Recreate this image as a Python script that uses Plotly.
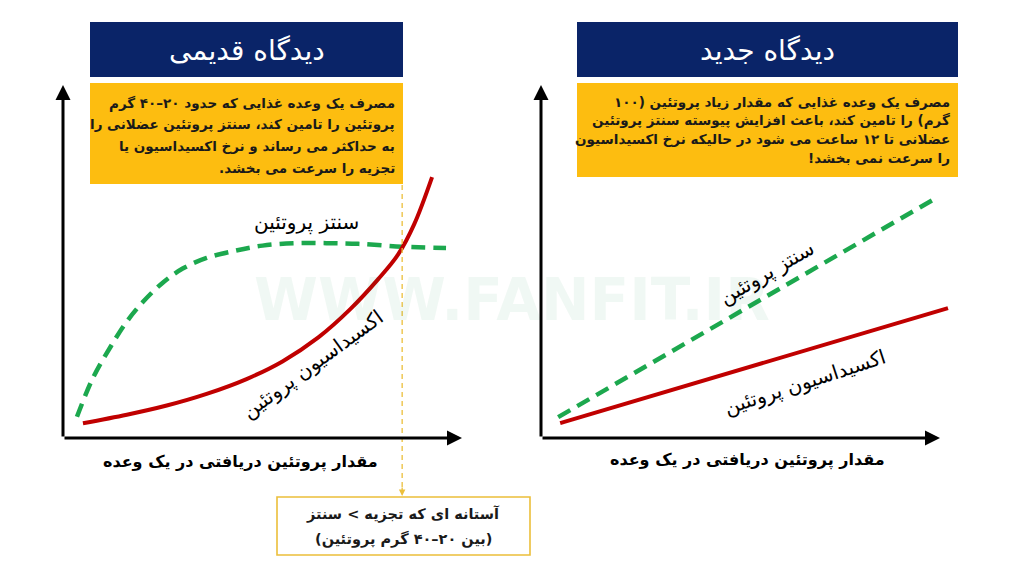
import plotly.graph_objects as go

W, H = 1030, 579
FONT = "DejaVu Sans"
NAVY = "#0a2468"
YELLOW = "#fdbd10"
GREEN = "#1ca84e"
RED = "#c00000"
GOLD = "#ecbf3a"

# ---------------- data ----------------
old_syn_x = [0.35, 0.75, 1.2, 1.6, 2.0, 2.5, 3.0, 3.6, 4.3, 5.0, 5.8, 6.6, 7.4, 8.5, 9.6]
old_syn_y = [0.6, 1.7, 2.6, 3.3, 3.85, 4.4, 4.8, 5.1, 5.3, 5.45, 5.52, 5.52, 5.5, 5.42, 5.38]
old_ox_x = [0.5, 1.6, 2.6, 3.6, 4.6, 5.5, 6.4, 7.2, 7.9, 8.4, 8.8, 9.25]
old_ox_y = [0.42, 0.66, 0.92, 1.25, 1.67, 2.17, 2.85, 3.65, 4.5, 5.2, 6.05, 7.39]
new_syn_x = [0.43, 9.95]
new_syn_y = [0.59, 6.83]
new_ox_x = [0.48, 10.2]
new_ox_y = [0.42, 3.68]
threshold_x = 8.5

title_old = "دیدگاه قدیمی"
title_new = "دیدگاه جدید"
old_lines = [
    "مصرف یک وعده غذایی که حدود ۲۰–۴۰ گرم",
    "پروتئین را تامین کند، سنتز پروتئین عضلانی را",
    "به حداکثر می رساند و نرخ اکسیداسیون یا",
    "تجزیه را سرعت می بخشد.",
]
new_lines = [
    "مصرف یک وعده غذایی که مقدار زیاد پروتئین (۱۰۰",
    "گرم) را تامین کند، باعث افزایش پیوسته سنتز پروتئین",
    "عضلانی تا ۱۲ ساعت می شود در حالیکه نرخ اکسیداسیون",
    "را سرعت نمی بخشد!",
]
x_label = "مقدار پروتئین دریافتی در یک وعده"
syn_label = "سنتز پروتئین"
ox_label = "اکسیداسیون پروتئین"
thr_lines = ["آستانه ای که تجزیه > سنتز", "(بین ۲۰–۴۰ گرم پروتئین)"]


def rtl(s):
    return "\u202b" + s + "\u202c"


def px(x):
    return x / W


def py(y):
    return 1 - y / H


fig = go.Figure()
fig.add_trace(go.Scatter(x=old_syn_x, y=old_syn_y, mode="lines", line=dict(color=GREEN, width=4.5, dash="14px,8px", shape="spline"), xaxis="x", yaxis="y"))
fig.add_trace(go.Scatter(x=old_ox_x, y=old_ox_y, mode="lines", line=dict(color=RED, width=4, shape="spline"), xaxis="x", yaxis="y"))
fig.add_trace(go.Scatter(x=new_syn_x, y=new_syn_y, mode="lines", line=dict(color=GREEN, width=4.5, dash="14px,8px"), xaxis="x2", yaxis="y2"))
fig.add_trace(go.Scatter(x=new_ox_x, y=new_ox_y, mode="lines", line=dict(color=RED, width=4), xaxis="x2", yaxis="y2"))

ax_common = dict(range=[0, 11], showgrid=False, zeroline=False, showticklabels=False, showline=False, ticks="", fixedrange=True)
ay_common = dict(range=[0, 10], showgrid=False, zeroline=False, showticklabels=False, showline=False, ticks="", fixedrange=True)
unit_px = 39.9
fig.update_layout(
    xaxis=dict(domain=[px(63), px(63 + 11 * unit_px)], anchor="y", **ax_common),
    yaxis=dict(domain=[py(438), py(85)], anchor="x", **ay_common),
    xaxis2=dict(domain=[px(541), px(541 + 11 * unit_px)], anchor="y2", **ax_common),
    yaxis2=dict(domain=[py(438), py(85)], anchor="x2", **ay_common),
)

shapes = []
annots = []


def label(x, y, text, size, color="black", anchor="center", angle=0):
    annots.append(dict(xref="paper", yref="paper", x=px(x), y=py(y), xanchor=anchor, yanchor="middle",
                       text=text, showarrow=False, textangle=angle, align="right" if anchor == "right" else "center",
                       font=dict(family=FONT, size=size, color=color)))


# watermark
label(512, 300, "<b>WWW.FANFIT.IR</b>", 58, color="rgba(0,140,60,0.06)")

# axes arrows
for xa, ya in [("x", "y"), ("x2", "y2")]:
    annots.append(dict(xref=xa, yref=ya, axref=xa, ayref=ya, x=10, y=0, ax=0, ay=0, text="", showarrow=True,
                       arrowhead=2, arrowsize=1, arrowwidth=3, arrowcolor="black", standoff=0))
    annots.append(dict(xref=xa, yref=ya, axref=xa, ayref=ya, x=0, y=10, ax=0, ay=0, text="", showarrow=True,
                       arrowhead=2, arrowsize=1, arrowwidth=3, arrowcolor="black", standoff=0))

# header boxes
for x0, x1, ybot, title, lines, lh, yfirst in [
    (90, 403, 184, title_old, old_lines, 21.5, 103),
    (577, 958, 177, title_new, new_lines, 18.5, 102),
]:
    shapes.append(dict(type="rect", xref="paper", yref="paper", x0=px(x0), x1=px(x1), y0=py(77), y1=py(22),
                       fillcolor=NAVY, line=dict(width=0)))
    shapes.append(dict(type="rect", xref="paper", yref="paper", x0=px(x0), x1=px(x1), y0=py(ybot), y1=py(83),
                       fillcolor=YELLOW, line=dict(width=0), layer="above"))
    label((x0 + x1) / 2, 50, rtl(title), 28, color="white")
    for i, ln in enumerate(lines):
        label(x1 - 6, yfirst + i * lh, "<b>" + rtl(ln) + "</b>", 13.5, color="#1a1a1a", anchor="right")

# x-axis labels
label(240, 462, "<b>" + rtl(x_label) + "</b>", 16)
label(747, 460, "<b>" + rtl(x_label) + "</b>", 16)

# curve labels
label(306, 222, rtl(syn_label), 20)
label(313, 365, rtl(ox_label), 20, angle=-36)
label(766, 273, rtl(syn_label), 20, angle=-30)
label(805, 383, rtl(ox_label), 20, angle=-18)

# threshold line + box
shapes.append(dict(type="line", xref="x", yref="paper", x0=threshold_x, x1=threshold_x, y0=py(185), y1=py(492),
                   line=dict(color=GOLD, width=1.3, dash="5px,4px")))
annots.append(dict(xref="x", yref="paper", x=threshold_x, y=py(496), ax=0, ay=-10, text="", showarrow=True,
                   arrowhead=2, arrowsize=1, arrowwidth=1.3, arrowcolor=GOLD, standoff=0))
shapes.append(dict(type="rect", xref="paper", yref="paper", x0=px(277), x1=px(530), y0=py(555), y1=py(497),
                   fillcolor="white", line=dict(color=GOLD, width=1.6)))
label(403, 514, "<b>" + rtl(thr_lines[0]) + "</b>", 14.5, color="#1a1a1a")
label(403, 539, "<b>" + rtl(thr_lines[1]) + "</b>", 14.5, color="#1a1a1a")

fig.update_layout(
    width=W, height=H, margin=dict(l=0, r=0, t=0, b=0),
    paper_bgcolor="white", plot_bgcolor="rgba(0,0,0,0)",
    showlegend=False, shapes=shapes, annotations=annots,
)
fig.write_html("out.html", config={"displayModeBar": False},
               post_script="document.body.style.margin='0';document.body.style.overflow='hidden';")
